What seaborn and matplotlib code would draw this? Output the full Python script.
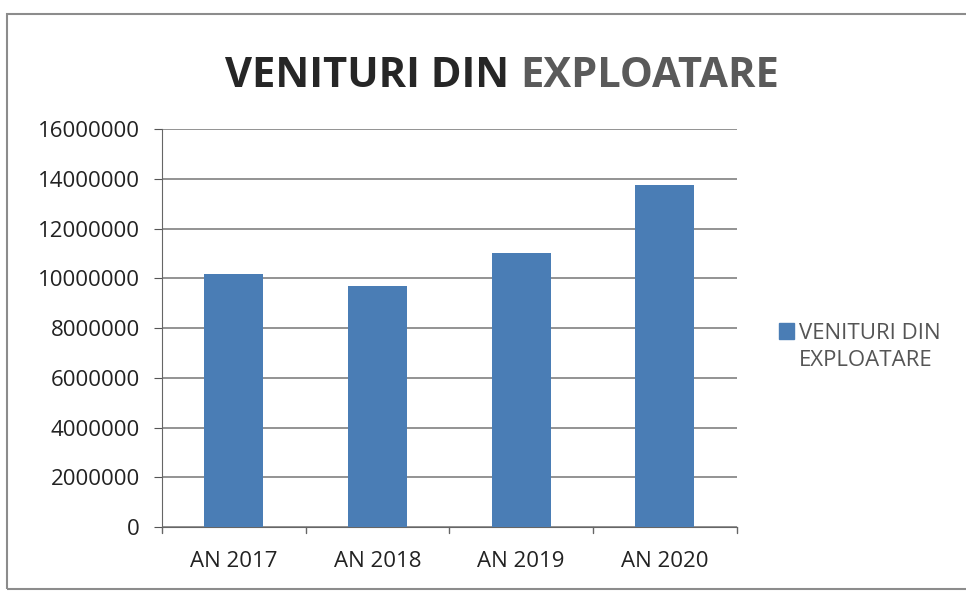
import matplotlib
matplotlib.use("Agg")
import matplotlib.pyplot as plt
import matplotlib.patches as mpatches
import seaborn as sns
import pandas as pd

ani = ["AN 2017", "AN 2018", "AN 2019", "AN 2020"]
venituri = [10170000, 9690000, 11030000, 13750000]
yticks = [0, 2000000, 4000000, 6000000, 8000000, 10000000, 12000000, 14000000, 16000000]

sns.set_style("white")
plt.rcParams['font.family'] = ['Open Sans', 'DejaVu Sans']

df = pd.DataFrame({"an": ani, "venituri": venituri})

fig = plt.figure(figsize=(9.66, 5.92), dpi=100)
ax = fig.add_axes([0.1677, 0.1098, 0.595, 0.672])

bar_color = "#4a7db5"
sns.barplot(data=df, x="an", y="venituri", color=bar_color, width=0.41,
            saturation=1, linewidth=0, ax=ax, zorder=3)

ax.set_ylim(0, 16000000)
ax.set_xlim(-0.5, 3.5)
ax.set_yticks(yticks)
ax.set_yticklabels([str(v) for v in yticks], fontsize=16, color="#222222")
ax.tick_params(axis="x", labelsize=16, colors="#222222", length=0, pad=17)
ax.tick_params(axis="y", length=6, direction="out", left=True, color="#555555", pad=10)
ax.set_xlabel("")
ax.set_ylabel("")
ax.grid(axis="y", color="#808080", linewidth=1.2, zorder=0)

for s in ["top", "right"]:
    ax.spines[s].set_visible(False)
ax.spines["left"].set_color("#666666")
ax.spines["bottom"].set_color("#666666")

# small boundary ticks on category axis
for xb in [-0.5, 0.5, 1.5, 2.5, 3.5]:
    ax.plot([xb, xb], [0, -250000], color="#666666", lw=1, clip_on=False)

# title in two colours
fig.text(0.527, 0.87, "VENITURI DIN", ha="right", va="center", fontsize=30,
         fontweight="bold", color="#262626")
fig.text(0.539, 0.87, "EXPLOATARE", ha="left", va="center", fontsize=30,
         fontweight="bold", color="#5a5a5a")

# legend: square only next to the first line
handles = [mpatches.Patch(color=bar_color),
           mpatches.Patch(color="none")]
fig.legend(handles=handles, labels=["VENITURI DIN", "EXPLOATARE"],
           loc="upper left", bbox_to_anchor=(0.806, 0.455),
           frameon=False, fontsize=16, handlelength=0.7, handleheight=0.7,
           handletextpad=0.2, labelspacing=0.3, borderpad=0, borderaxespad=0,
           labelcolor="#555555")

# outer chart border (right side runs off the scan)
border = mpatches.Rectangle((0.0075, 0.005), 1.0, 0.971, transform=fig.transFigure,
                            fill=False, edgecolor="#8c8c8c", lw=1.5)
fig.patches.append(border)

fig.savefig("out.png", dpi=100, facecolor="white")
